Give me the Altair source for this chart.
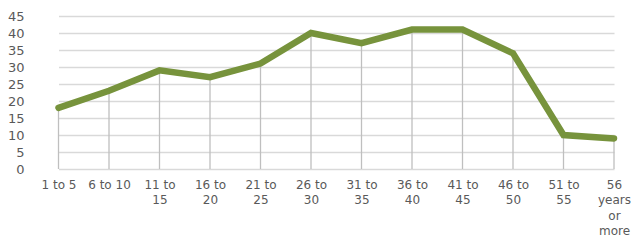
import altair as alt
import pandas as pd

categories = ["1 to 5", "6 to 10", "11 to\n15", "16 to\n20", "21 to\n25", "26 to\n30",
              "31 to\n35", "36 to\n40", "41 to\n45", "46 to\n50", "51 to\n55", "56\nyears\nor\nmore"]
values = [18, 23, 29, 27, 31, 40, 37, 41, 41, 34, 10, 9]

df = pd.DataFrame({"cat": categories, "val": values})

font = "DejaVu Sans"
x = alt.X("cat:N", sort=categories, title=None,
          scale=alt.Scale(type="point", range=[24.5, 580], padding=0),
          axis=alt.Axis(labelAngle=0, ticks=False, domain=False, grid=False,
                        labelExpr="split(datum.label, '\\n')",
                        labelPadding=10, labelLineHeight=15.5, labelBaseline="top",
                        labelFont=font, labelFontSize=12, labelColor="#595959"))
y = alt.Y("val:Q", title=None,
          scale=alt.Scale(domain=[0, 45], nice=False),
          axis=alt.Axis(values=list(range(0, 50, 5)), ticks=False, domain=False,
                        gridColor="#D9D9D9", gridWidth=1.3, labelPadding=10,
                        labelFont=font, labelFontSize=13, labelColor="#595959"))

rules = alt.Chart(df).mark_rule(color="#BFBFBF", strokeWidth=1.3).encode(
    x=x, y=y, y2=alt.datum(0))
line = alt.Chart(df).mark_line(color="#77933C", strokeWidth=6.5, strokeCap="round",
                               strokeJoin="miter").encode(x=x, y=y)

chart = alt.layer(rules, line).properties(
    width=597, height=153,
    autosize=alt.AutoSizeParams(type="none"),
    padding={"left": 26, "top": 8, "right": 0, "bottom": 72},
).configure_view(stroke=None)

chart.save("out.html", embed_options={"renderer": "svg", "actions": False})
